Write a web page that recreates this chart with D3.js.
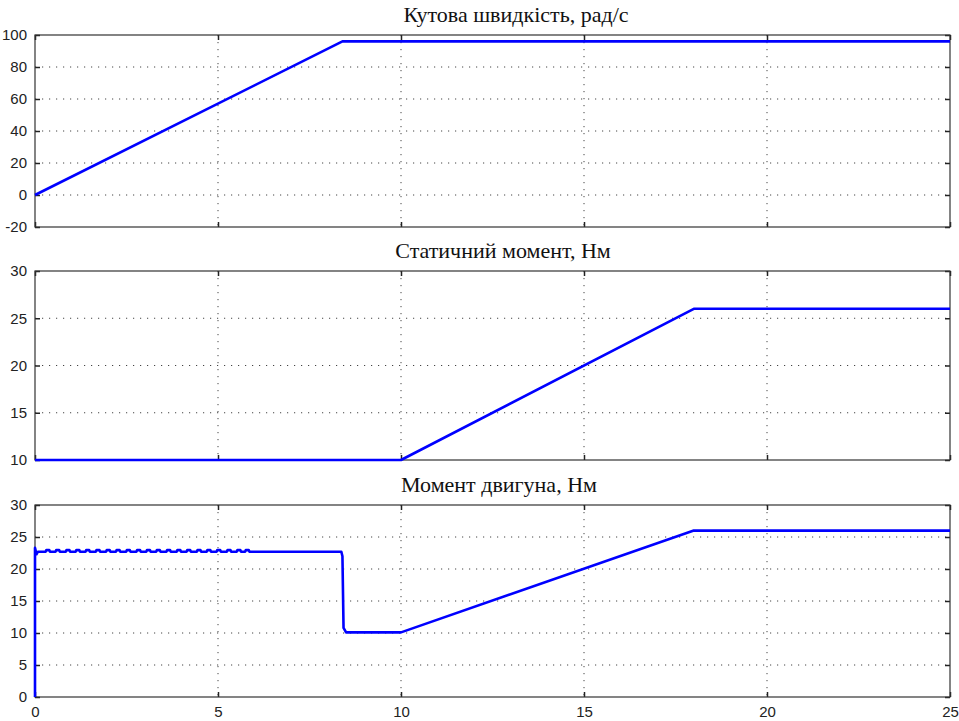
<!DOCTYPE html>
<html>
<head>
<meta charset="utf-8">
<script src="https://cdn.jsdelivr.net/npm/d3@7"></script>
<style>
  body { margin: 0; background: #fff; }
  .title { font-family: "Liberation Serif", "Times New Roman", serif; font-size: 22px; fill: #111; }
  .tick text { font-family: "Liberation Sans", Arial, sans-serif; font-size: 15px; fill: #222; }
</style>
</head>
<body>
<div class="canva"></div>
<script>
// time axis
const xTicks = [0, 5, 10, 15, 20, 25];

// panel 1: angular speed
const speedT = [0, 8.4, 25];
const speedV = [0, 96, 96];
const speedTicks = [-20, 0, 20, 40, 60, 80, 100];

// panel 2: static torque
const loadT = [0, 10, 18, 25];
const loadV = [10, 10, 26, 26];
const loadTicks = [10, 15, 20, 25, 30];

// panel 3: motor torque
const motorT = [0, 0, 0.04, 0.08, 8.37, 8.40, 8.43, 8.50, 10, 18, 25];
const motorV = [0, 23.3, 22.3, 22.7, 22.7, 22.0, 10.8, 10.1, 10.1, 26, 26];
// small ripple bumps on the 22.7 level (times)
const rippleT = [0.35, 0.62, 0.9, 1.17, 1.44, 1.72, 2.0, 2.27, 2.55, 2.83, 3.1, 3.37,
                 3.65, 3.93, 4.2, 4.48, 4.75, 5.02, 5.3, 5.57, 5.8];
const rippleTop = 22.95;
const motorTicks = [0, 5, 10, 15, 20, 25, 30];

const titles = ['Кутова швидкість, рад/с', 'Статичний момент, Нм', 'Момент двигуна, Нм'];

const width = 959, height = 721;
const svg = d3.select('.canva').append('svg')
              .attr('width', width)
              .attr('height', height)

const left = 35, right = 950;

const x = d3.scaleLinear().domain([0, 25]).range([left, right]);

function zip(ts, vs) { return ts.map((t, i) => [t, vs[i]]) }

// build motor torque points with ripple inserted
let motorPts = zip(motorT, motorV);
const rip = [];
rippleT.forEach(t => {
  rip.push([t - 0.06, 22.7], [t - 0.04, rippleTop], [t + 0.04, rippleTop], [t + 0.06, 22.7]);
});
motorPts = motorPts.slice(0, 4).concat(rip, motorPts.slice(4));

const fmt = d => String(d); // plain hyphen for negatives, like the original

const panels = [
  { top: 35, bottom: 227, domain: [-20, 100], ticks: speedTicks, pts: zip(speedT, speedV), xlabels: false, tx: 516 },
  { top: 271, bottom: 460, domain: [10, 30], ticks: loadTicks, pts: zip(loadT, loadV), xlabels: false, tx: 503 },
  { top: 505, bottom: 697, domain: [0, 30], ticks: motorTicks, pts: motorPts, xlabels: true, tx: 499 }
];

panels.forEach((p, i) => {
  const y = d3.scaleLinear().domain(p.domain).range([p.bottom, p.top]);
  const g = svg.append('g');

  // grid
  g.selectAll('.hg').data(p.ticks.slice(1, -1)).enter().append('line')
    .attr('x1', left).attr('x2', right)
    .attr('y1', d => y(d)).attr('y2', d => y(d))
    .attr('stroke', '#444').attr('stroke-width', 1).attr('stroke-dasharray', '1.2,5.8')
  g.selectAll('.vg').data(xTicks.slice(1, -1)).enter().append('line')
    .attr('y1', p.top).attr('y2', p.bottom)
    .attr('x1', d => x(d)).attr('x2', d => x(d))
    .attr('stroke', '#444').attr('stroke-width', 1).attr('stroke-dasharray', '1.2,5.8')

  // axes with inward ticks
  g.append('g').attr('transform', `translate(${left},0)`)
    .call(d3.axisLeft(y).tickValues(p.ticks).tickSize(-5).tickPadding(8).tickFormat(fmt))
    .call(a => a.select('.domain').remove())
  g.append('g').attr('transform', `translate(${right},0)`)
    .call(d3.axisRight(y).tickValues(p.ticks).tickSize(-5).tickFormat(''))
    .call(a => a.select('.domain').remove())
  g.append('g').attr('transform', `translate(0,${p.bottom})`)
    .call(d3.axisBottom(x).tickValues(xTicks).tickSize(-5).tickPadding(9).tickFormat(p.xlabels ? fmt : ''))
    .call(a => a.select('.domain').remove())
  g.append('g').attr('transform', `translate(0,${p.top})`)
    .call(d3.axisTop(x).tickValues(xTicks).tickSize(-5).tickFormat(''))
    .call(a => a.select('.domain').remove())
  g.selectAll('.tick line').attr('stroke', '#222').attr('stroke-width', 1.5)

  // frame
  g.append('rect')
    .attr('x', left).attr('y', p.top)
    .attr('width', right - left).attr('height', p.bottom - p.top)
    .attr('fill', 'none').attr('stroke', '#333').attr('stroke-width', 1.2)

  // data line
  g.append('path')
    .datum(p.pts)
    .attr('fill', 'none')
    .attr('stroke', '#0000ff')
    .attr('stroke-width', 2.6)
    .attr('stroke-linejoin', 'round')
    .attr('d', d3.line().x(d => x(d[0])).y(d => y(d[1])))

  // title
  svg.append('text')
    .attr('class', 'title')
    .attr('x', p.tx)
    .attr('y', p.top - 13)
    .attr('text-anchor', 'middle')
    .text(titles[i])
});
</script>
</body>
</html>
